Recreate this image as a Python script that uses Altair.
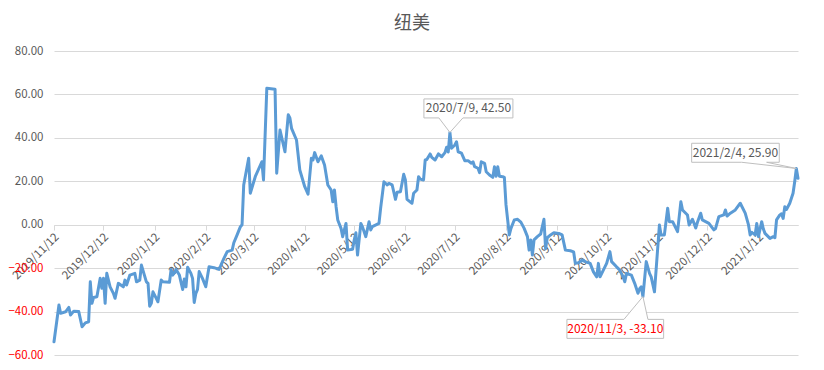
import altair as alt
import pandas as pd

title_text = "纽美"

dates = [
    "2019-11-12", "2019-11-15", "2019-11-16", "2019-11-19", "2019-11-21", "2019-11-22", "2019-11-24",
    "2019-11-27", "2019-11-29", "2019-12-01", "2019-12-03", "2019-12-04", "2019-12-05", "2019-12-06",
    "2019-12-08", "2019-12-10", "2019-12-11", "2019-12-12", "2019-12-13", "2019-12-14", "2019-12-16",
    "2019-12-18", "2019-12-19", "2019-12-21", "2019-12-24", "2019-12-25", "2019-12-26", "2019-12-28",
    "2019-12-31", "2020-01-01", "2020-01-03", "2020-01-04", "2020-01-07", "2020-01-08", "2020-01-09",
    "2020-01-10", "2020-01-11", "2020-01-13", "2020-01-14", "2020-01-16", "2020-01-17", "2020-01-21",
    "2020-01-22", "2020-01-23", "2020-01-25", "2020-01-27", "2020-01-29", "2020-01-30", "2020-01-31",
    "2020-02-01", "2020-02-03", "2020-02-04", "2020-02-05", "2020-02-06", "2020-02-07", "2020-02-08",
    "2020-02-10", "2020-02-12", "2020-02-14", "2020-02-17", "2020-02-20", "2020-02-21", "2020-02-23",
    "2020-02-25", "2020-02-28", "2020-02-29", "2020-03-02", "2020-03-04", "2020-03-05", "2020-03-06",
    "2020-03-09", "2020-03-10", "2020-03-13", "2020-03-17", "2020-03-18", "2020-03-20", "2020-03-25",
    "2020-03-26", "2020-03-28", "2020-03-31", "2020-04-02", "2020-04-03", "2020-04-04", "2020-04-07",
    "2020-04-09", "2020-04-12", "2020-04-14", "2020-04-16", "2020-04-17", "2020-04-18", "2020-04-20",
    "2020-04-22", "2020-04-24", "2020-04-26", "2020-04-28", "2020-04-29", "2020-04-30", "2020-05-01",
    "2020-05-02", "2020-05-04", "2020-05-05", "2020-05-06", "2020-05-07", "2020-05-08", "2020-05-11",
    "2020-05-12", "2020-05-13", "2020-05-14", "2020-05-16", "2020-05-17", "2020-05-19", "2020-05-21",
    "2020-05-22", "2020-05-23", "2020-05-27", "2020-05-28", "2020-05-30", "2020-06-01", "2020-06-02",
    "2020-06-04", "2020-06-06", "2020-06-07", "2020-06-09", "2020-06-11", "2020-06-12", "2020-06-13",
    "2020-06-16", "2020-06-17", "2020-06-19", "2020-06-20", "2020-06-21", "2020-06-23", "2020-06-24",
    "2020-06-25", "2020-06-27", "2020-06-28", "2020-06-30", "2020-07-02", "2020-07-04", "2020-07-06",
    "2020-07-07", "2020-07-08", "2020-07-09", "2020-07-10", "2020-07-12", "2020-07-13", "2020-07-14",
    "2020-07-16", "2020-07-18", "2020-07-20", "2020-07-22", "2020-07-23", "2020-07-24", "2020-07-26",
    "2020-07-27", "2020-07-28", "2020-07-30", "2020-07-31", "2020-08-02", "2020-08-04", "2020-08-05",
    "2020-08-06", "2020-08-07", "2020-08-08", "2020-08-10", "2020-08-11", "2020-08-12", "2020-08-14",
    "2020-08-15", "2020-08-17", "2020-08-19", "2020-08-21", "2020-08-23", "2020-08-25", "2020-08-26",
    "2020-08-27", "2020-08-28", "2020-08-29", "2020-08-31", "2020-09-02", "2020-09-04", "2020-09-05",
    "2020-09-06", "2020-09-08", "2020-09-10", "2020-09-13", "2020-09-15", "2020-09-17", "2020-09-20",
    "2020-09-22", "2020-09-23", "2020-09-25", "2020-09-27", "2020-09-29", "2020-10-02", "2020-10-04",
    "2020-10-06", "2020-10-07", "2020-10-08", "2020-10-10", "2020-10-12", "2020-10-14", "2020-10-15",
    "2020-10-18", "2020-10-20", "2020-10-22", "2020-10-23", "2020-10-24", "2020-10-27", "2020-10-29",
    "2020-10-31", "2020-11-01", "2020-11-02", "2020-11-03", "2020-11-05", "2020-11-07", "2020-11-08",
    "2020-11-10", "2020-11-13", "2020-11-14", "2020-11-16", "2020-11-18", "2020-11-19", "2020-11-21",
    "2020-11-24", "2020-11-26", "2020-11-27", "2020-11-30", "2020-12-01", "2020-12-03", "2020-12-04",
    "2020-12-05", "2020-12-06", "2020-12-08", "2020-12-09", "2020-12-13", "2020-12-16", "2020-12-17",
    "2020-12-19", "2020-12-22", "2020-12-23", "2020-12-24", "2020-12-26", "2020-12-29", "2021-01-01",
    "2021-01-04", "2021-01-06", "2021-01-07", "2021-01-08", "2021-01-10", "2021-01-11", "2021-01-12",
    "2021-01-14", "2021-01-15", "2021-01-16", "2021-01-19", "2021-01-21", "2021-01-22", "2021-01-23",
    "2021-01-25", "2021-01-26", "2021-01-27", "2021-01-28", "2021-01-29", "2021-01-31", "2021-02-01",
    "2021-02-02", "2021-02-03", "2021-02-04", "2021-02-05",
]

values = [
    -53.9, -37.0, -40.8, -40.1, -38.1, -41.6, -39.8,
    -40.0, -47.0, -45.2, -44.7, -26.3, -36.2, -33.5,
    -33.2, -24.7, -29.3, -24.7, -36.2, -22.4, -28.6,
    -31.6, -33.9, -27.0, -28.6, -25.5, -27.8, -23.2,
    -22.4, -26.3, -25.5, -18.6, -26.3, -27.0, -37.5,
    -36.2, -30.9, -33.9, -35.5, -25.5, -26.3, -26.5,
    -20.6, -23.2, -20.6, -23.2, -29.8, -25.0, -28.6,
    -19.6, -22.4, -24.7, -35.8, -31.6, -29.8, -21.6,
    -24.7, -28.6, -19.4, -19.8, -20.6, -19.0, -15.5,
    -12.4, -11.7, -8.3, -4.7, -0.9, 0.0, 18.3,
    30.6, 14.5, 22.1, 29.0, 20.6, 62.8, 62.4,
    23.7, 43.6, 33.6, 50.6, 49.2, 44.4, 39.0,
    25.2, 17.5, 14.1, 30.6, 29.8, 33.2, 29.0,
    31.7, 27.5, 18.3, 16.0, 10.6, 16.0, 8.3,
    2.2, -1.7, -5.5, -2.4, 0.6, -11.7, -11.3,
    -7.0, -3.7, -14.0, 0.6, -1.0, -5.5, 1.4,
    -2.4, -0.9, 0.6, 7.6, 19.8, 18.3, 19.0,
    18.3, 11.7, 15.0, 15.2, 23.2, 20.6, 11.7,
    9.9, 14.5, 16.0, 22.1, 21.0, 20.6, 29.8,
    30.0, 32.6, 31.0, 29.8, 32.6, 31.3, 33.2,
    35.7, 33.5, 42.5, 35.2, 36.7, 38.2, 33.6,
    33.0, 29.5, 29.5, 28.3, 29.0, 26.7, 26.0,
    24.0, 29.0, 28.3, 24.4, 22.9, 21.8, 26.7,
    22.3, 26.7, 22.3, 22.1, 21.8, 9.1, -4.7,
    -1.7, 2.2, 2.5, 1.2, -1.7, -5.5, -11.7,
    -7.0, -14.0, -7.0, -5.5, -4.3, 2.5, -11.0,
    -6.0, -4.7, -3.7, -4.0, -4.7, -11.7, -12.0,
    -12.5, -17.8, -17.5, -16.3, -17.0, -17.8, -21.7,
    -24.0, -17.8, -24.0, -20.9, -17.8, -12.4, -17.0,
    -19.4, -20.9, -24.0, -26.3, -22.4, -23.2, -27.0,
    -31.6, -29.5, -28.6, -33.1, -17.0, -22.4, -24.0,
    -30.9, -0.1, -4.7, -4.7, 7.6, 1.4, 1.4,
    -3.2, 10.6, 6.8, 4.5, -0.1, 2.5, 0.6,
    -1.5, 1.0, 5.3, 2.2, 0.6, -2.4, -1.8,
    3.7, 4.5, 6.8, 4.0, 5.3, 6.8, 9.9,
    5.3, -0.1, -4.7, -3.5, -4.7, 0.6, -5.5,
    1.4, -2.0, -4.0, -6.3, -5.5, -6.0, 2.2,
    4.5, 5.0, 2.9, 8.3, 7.0, 9.9, 12.2,
    14.5, 19.8, 25.9, 21.4,
]

tick_dates = [
    "2019-11-12", "2019-12-12", "2020-01-12", "2020-02-12", "2020-03-12",
    "2020-04-12", "2020-05-12", "2020-06-12", "2020-07-12", "2020-08-12",
    "2020-09-12", "2020-10-12", "2020-11-12", "2020-12-12", "2021-01-12",
]
y_ticks = [-60, -40, -20, 0, 20, 40, 60, 80]

ann_dates = ["2020-07-09", "2020-11-03", "2021-02-04"]
ann_values = [42.5, -33.1, 25.9]
ann_labels = ["2020/7/9, 42.50", "2020/11/3, -33.10", "2021/2/4, 25.90"]


def dt(s):
    y, m, d = (int(p) for p in s.split("-"))
    return alt.DateTime(year=y, month=m, date=d, utc=True)


df = pd.DataFrame({"date": dates, "value": values})
ann_df = pd.DataFrame({"date": ann_dates, "value": ann_values, "label": ann_labels})

FONT = "Noto Sans CJK SC"
GREY_TEXT = "#595959"
LINE_BLUE = "#5B9BD5"

x_scale = alt.Scale(type="utc", domain=[dt(dates[0]), dt(dates[-1])])
y_scale = alt.Scale(domain=[y_ticks[0], y_ticks[-1]], nice=False, zero=False)

x_axis = alt.Axis(
    values=[dt(t) for t in tick_dates],
    labelExpr="utcFormat(datum.value, '%Y/%-m/%-d')",
    labelAngle=-45,
    labelAlign="right",
    labelBaseline="middle",
    labelPadding=5,
    labelOffset=3,
    labelOverlap=False,
    labelFlush=False,
    labelFont=FONT,
    labelFontSize=11.5,
    labelColor=GREY_TEXT,
    tickSize=5,
    tickColor="#d9d9d9",
    domainColor="#d9d9d9",
    grid=False,
    offset=-130,
)
y_axis = alt.Axis(
    values=y_ticks,
    format=".2f",
    labelFont=FONT,
    labelFontSize=11.5,
    labelColor={"condition": {"test": "datum.value < 0", "value": "#FF0000"}, "value": GREY_TEXT},
    labelPadding=11,
    ticks=False,
    domain=False,
    grid=True,
    gridColor="#d9d9d9",
    gridWidth=1,
)

x_enc = alt.X("date:T", scale=x_scale, title=None, axis=x_axis)
y_enc = alt.Y("value:Q", scale=y_scale, title=None, axis=y_axis)

line = alt.Chart(df).mark_line(
    color=LINE_BLUE, strokeWidth=3, strokeJoin="round", strokeCap="round"
).encode(x=x_enc, y=y_enc)

# callout shapes (pixel paths anchored at the data point) and label offsets
callouts = [
    ("M-26,-33.5 L63,-33.5 L63,-14.5 L13,-14.5 L0,0 L-11,-14.5 L-26,-14.5 Z", 18.5, -24, GREY_TEXT),
    ("M-76,22.8 L-19,22.8 L0,0 L5,22.8 L20.7,22.8 L20.7,41.8 L-76,41.8 Z", -27.6, 32.3, "#FF0000"),
    ("M-104.7,-25.2 L-17.1,-25.2 L-17.1,-6.2 L-29.7,-6.2 L0,0 L-54.7,-6.2 L-104.7,-6.2 Z", -60.9, -15.7, GREY_TEXT),
]

layers = [line]
for i, (path, tdx, tdy, tcolor) in enumerate(callouts):
    sub = ann_df.iloc[i:i + 1]
    box = alt.Chart(sub).mark_point(
        shape=path, size=4, filled=True, fill="white", stroke="#bfbfbf",
        strokeWidth=1, opacity=1
    ).encode(x=x_enc, y=y_enc)
    txt = alt.Chart(sub).mark_text(
        dx=tdx, dy=tdy, align="center", baseline="middle",
        font=FONT, fontSize=12, color=tcolor
    ).encode(x=x_enc, y=y_enc, text="label:N")
    layers += [box, txt]

chart = alt.layer(*layers).properties(
    width=744,
    height=304,
    autosize="none",
    padding={"left": 46, "top": 43, "right": 12, "bottom": 6},
    title=alt.TitleParams(
        text=title_text, font=FONT, fontSize=18, fontWeight="normal",
        color=GREY_TEXT, anchor="middle", dx=-14, offset=12
    ),
    background="white",
).configure_view(stroke=None)

chart.save("out.html", embed_options={"renderer": "svg", "actions": False})
